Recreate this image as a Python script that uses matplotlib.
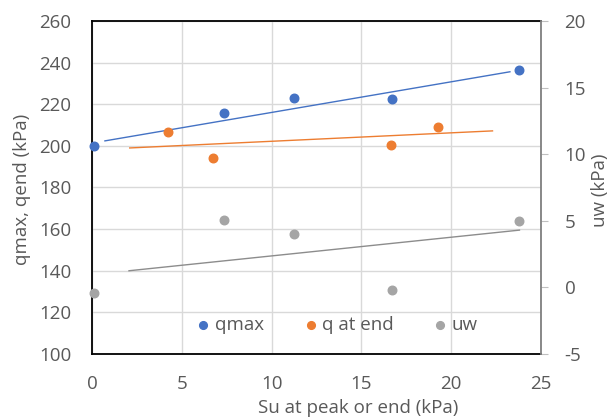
import numpy as np
import matplotlib.pyplot as plt

# values
su_qmax = [0.1, 7.35, 11.25, 16.7, 23.8]
qmax = [200.0, 215.9, 223.0, 222.6, 236.5]

su_qend = [4.23, 6.74, 16.65, 19.27]
qend = [206.7, 194.2, 200.5, 209.1]

su_uw = [0.1, 7.35, 11.25, 16.7, 23.8]
uw = [-0.4, 5.05, 4.0, -0.2, 4.95]

# trendline end points (as drawn in the source)
trend_qmax_x = [0.72, 23.27]
trend_qmax_y = [202.4, 235.6]
trend_qend_x = [2.1, 22.3]
trend_qend_y = [199.0, 207.2]
trend_uw_x = [2.06, 23.8]
trend_uw_y = [1.25, 4.3]

blue = '#4472C4'
orange = '#ED7D31'
grey = '#A5A5A5'
txt = '#595959'
fs = 13.5

plt.rcParams['font.family'] = ['Open Sans', 'DejaVu Sans']
plt.rcParams['axes.unicode_minus'] = False

fig = plt.figure(figsize=(6.1, 4.18), dpi=100)
ax = fig.add_axes([92 / 610, 1 - 354 / 418, 449 / 610, 333 / 418])
ax2 = ax.twinx()

ax.set_xlim(0, 25)
ax.set_ylim(100, 260)
ax2.set_ylim(-5, 20)
ax.set_xticks(np.arange(0, 26, 5))
ax.set_yticks(np.arange(100, 261, 20))
ax2.set_yticks(np.arange(-5, 21, 5))

ax.grid(True, color='#D9D9D9', lw=1)
ax.set_axisbelow(True)

ax.plot(trend_qmax_x, trend_qmax_y, color=blue, lw=1)
ax.plot(trend_qend_x, trend_qend_y, color=orange, lw=1)
ax2.plot(trend_uw_x, trend_uw_y, color='#8C8C8C', lw=1)

ax.scatter(su_qmax, qmax, s=38, color=blue, zorder=3, label='qmax', clip_on=False)
ax.scatter(su_qend, qend, s=38, color=orange, zorder=3, label='q at end', clip_on=False)
ax2.scatter(su_uw, uw, s=38, color=grey, zorder=3, label='uw', clip_on=False)

for s in ['left', 'bottom', 'top']:
    ax.spines[s].set_color('black')
    ax.spines[s].set_linewidth(1.3)
ax.spines['right'].set_visible(False)
for s in ['left', 'bottom', 'top']:
    ax2.spines[s].set_visible(False)
ax2.spines['right'].set_color('#7F7F7F')
ax2.spines['right'].set_linewidth(1.3)

ax.tick_params(axis='y', length=0, labelsize=fs, labelcolor=txt, pad=15)
ax.tick_params(axis='x', length=0, labelsize=fs, labelcolor=txt, pad=15)
ax2.tick_params(axis='y', length=5, color='#BFBFBF', labelsize=fs, labelcolor=txt, pad=12)

ax.set_xlabel('Su at peak or end (kPa)', fontsize=fs, color=txt, va='center')
ax.xaxis.set_label_coords((358 - 92) / 449, (354 - 408) / 333)
ax.set_ylabel('qmax, qend (kPa)', fontsize=fs, color=txt, va='center')
ax.yaxis.set_label_coords((22 - 92) / 449, (354 - 189) / 333)
ax2.set_ylabel('uw (kPa)', fontsize=fs, color=txt, va='center')
ax2.yaxis.set_label_coords((600 - 92) / 449, (354 - 190) / 333)

h1, l1 = ax.get_legend_handles_labels()
h2, l2 = ax2.get_legend_handles_labels()
leg = ax2.legend(h1 + h2, l1 + l2, loc='center', bbox_to_anchor=(0.545, 0.087),
                 ncol=3, frameon=False, fontsize=fs, labelcolor=txt,
                 markerscale=0.9, handlelength=0.8, handletextpad=0.2,
                 columnspacing=2.1, borderpad=0)

fig.savefig('out.png', dpi=100)
